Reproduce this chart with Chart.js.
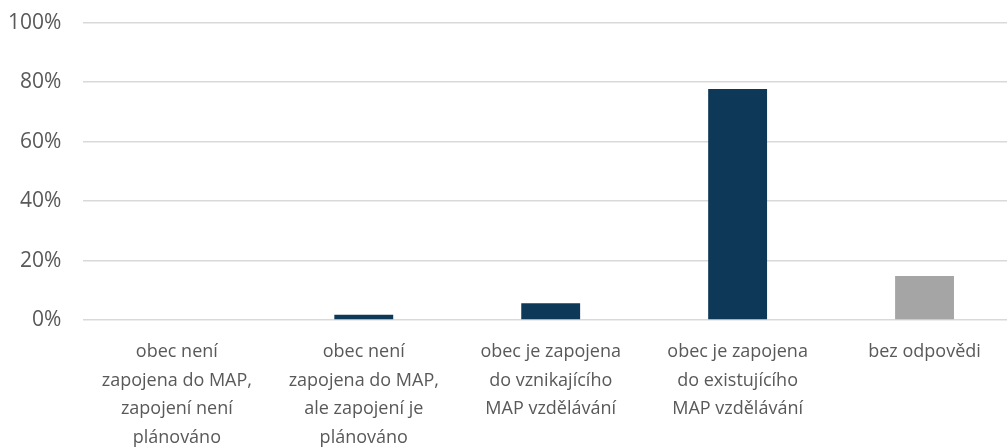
<!DOCTYPE html>
<html>
<head>
<meta charset="utf-8">
<script src="https://cdn.jsdelivr.net/npm/chart.js@4"></script>
<style>
    html, body { margin: 0; padding: 0; background: #fff; overflow: hidden; }
    #wrap { position: relative; width: 1018px; height: 460px; margin-top: -12px; }
</style>
</head>
<body>
<div id="wrap"><canvas id="chart"></canvas></div>
<script>
const categories = [
    ['obec není', 'zapojena do MAP,', 'zapojení není', 'plánováno'],
    ['obec není', 'zapojena do MAP,', 'ale zapojení je', 'plánováno'],
    ['obec je zapojena', 'do vznikajícího', 'MAP vzdělávání'],
    ['obec je zapojena', 'do existujícího', 'MAP vzdělávání'],
    ['bez odpovědi']
];
const values = [0, 1.8, 5.6, 77.7, 14.8];
const barColors = ['#0e3858', '#0e3858', '#0e3858', '#0e3858', '#a5a5a5'];
const yTicks = [0, 20, 40, 60, 80, 100];

const textColor = '#595959';
const family = '"Open Sans", sans-serif';

new Chart(document.getElementById('chart'), {
    type: 'bar',
    data: {
        labels: categories,
        datasets: [{
            data: values,
            backgroundColor: barColors,
            categoryPercentage: 1,
            barPercentage: 0.315
        }]
    },
    options: {
        responsive: true,
        maintainAspectRatio: false,
        animation: false,
        layout: { padding: { left: -14, right: 0, top: -22, bottom: -22 } },
        plugins: { legend: { display: false }, tooltip: { enabled: false } },
        scales: {
            y: {
                min: 0, max: 100,
                afterBuildTicks: axis => { axis.ticks = yTicks.map(v => ({ value: v })); },
                grid: { color: '#d9d9d9', lineWidth: 1.5, drawTicks: false },
                border: { display: false },
                ticks: {
                    color: textColor, font: { family: family, size: 21 }, padding: 22,
                    callback: v => v + '%'
                }
            },
            x: {
                grid: { display: false, drawTicks: false },
                border: { display: false },
                ticks: {
                    color: textColor,
                    font: { family: family, size: 18, lineHeight: '28.5px' },
                    maxRotation: 0, autoSkip: false, padding: 18
                }
            }
        }
    }
});
</script>
</body>
</html>
